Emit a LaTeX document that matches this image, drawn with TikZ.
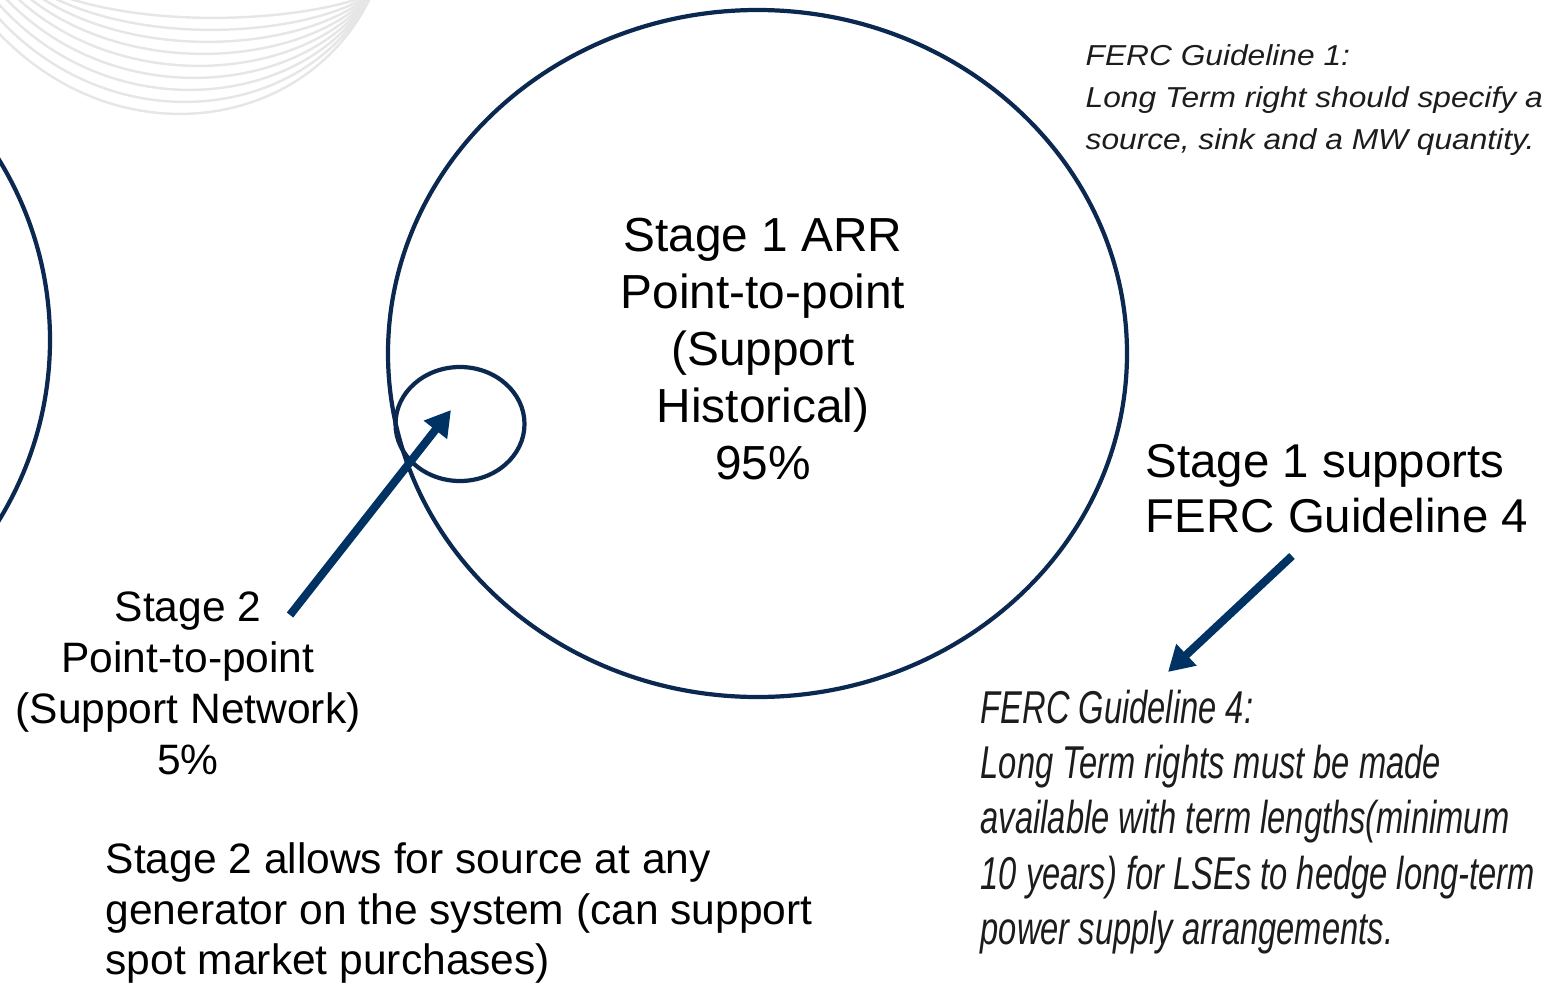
\documentclass[tikz,border=0pt]{standalone}
\usepackage{fontspec}
\setmainfont{Liberation Sans}
\newfontfamily\guidefour{Liberation Sans}[FakeStretch=0.71]
\newfontfamily\guideone{Liberation Sans}[FakeStretch=1.1]
\usetikzlibrary{arrows.meta}
\definecolor{ringblue}{RGB}{10,40,80}
\definecolor{arrowblue}{RGB}{0,50,100}
\definecolor{swirl}{RGB}{230,230,230}
\definecolor{guidegray}{RGB}{28,28,28}
\tikzset{
  ring/.style={draw=ringblue, line width=1.2pt},
  bigarrow/.style={draw=arrowblue, line width=2.3pt, -{Triangle[width=8pt,length=7.2pt]}},
  swirlline/.style={draw=swirl, line width=0.7pt},
  label/.style={inner sep=0pt, align=center},
  guide/.style={inner sep=0pt, align=left, text=guidegray}
}

\begin{document}
\begin{tikzpicture}
  \useasboundingbox (0,0) rectangle (15.5,9.86);
  \clip (0,0) rectangle (15.5,9.86);
  %swirl in the corner
  \foreach \i in {0,...,8}{
    \draw[swirlline] (-0.5+0.12*\i, 10.2-0.03*\i) .. controls (0.6+0.1*\i, 8.2+0.17*\i) and (3.0, 8.35+0.16*\i) .. (3.72, 9.92);
  }
  %rings
  \draw[ring] (-3.3, 6.46) ellipse (3.8 and 3.6);
  \draw[ring] (7.575, 6.325) ellipse (3.695 and 3.435);
  \draw[ring] (4.60, 5.62) ellipse (0.645 and 0.57);
  %texts
  \node[label, font=\fontsize{13.6}{16.2}\selectfont] (stageone) at (7.63, 6.37)
    {Stage 1 ARR\\Point-to-point\\(Support\\Historical)\\95\%};
  \node[label, font=\fontsize{12.1}{14.5}\selectfont] (stagetwo) at (1.88, 3.03)
    {Stage 2\\Point-to-point\\(Support Network)\\5\%};
  \node[label, anchor=west, align=left, font=\fontsize{13.5}{15.7}\selectfont] (supports) at (11.45, 4.975)
    {Stage 1 supports\\FERC Guideline 4};
  \node[label, anchor=west, align=left, font=\fontsize{12.1}{14.5}\selectfont] (allows) at (1.05, 0.73)
    {Stage 2 allows for source at any\\generator on the system (can support\\spot market purchases)};
  \node[guide, anchor=west, font=\guideone\itshape\fontsize{8.2}{12}\selectfont] (guideone) at (10.85, 8.86)
    {FERC Guideline 1:\\Long Term right should specify a\\source, sink and a MW quantity.};
  \node[guide, anchor=west, font=\guidefour\itshape\fontsize{13.1}{15.7}\selectfont] (guidefour) at (9.80, 1.64)
    {FERC Guideline 4:\\Long Term rights must be made\\available with term lengths(minimum\\10 years) for LSEs to hedge long-term\\power supply arrangements.};
  %arrows
  \coordinate (twotail) at (2.90, 3.71);
  \coordinate (twotip) at (4.51, 5.76);
  \coordinate (fourtail) at (12.92, 4.30);
  \coordinate (fourtip) at (11.68, 3.14);
  \draw[bigarrow] (twotail) -- (twotip);
  \draw[bigarrow] (fourtail) -- (fourtip);
\end{tikzpicture}
\end{document}
